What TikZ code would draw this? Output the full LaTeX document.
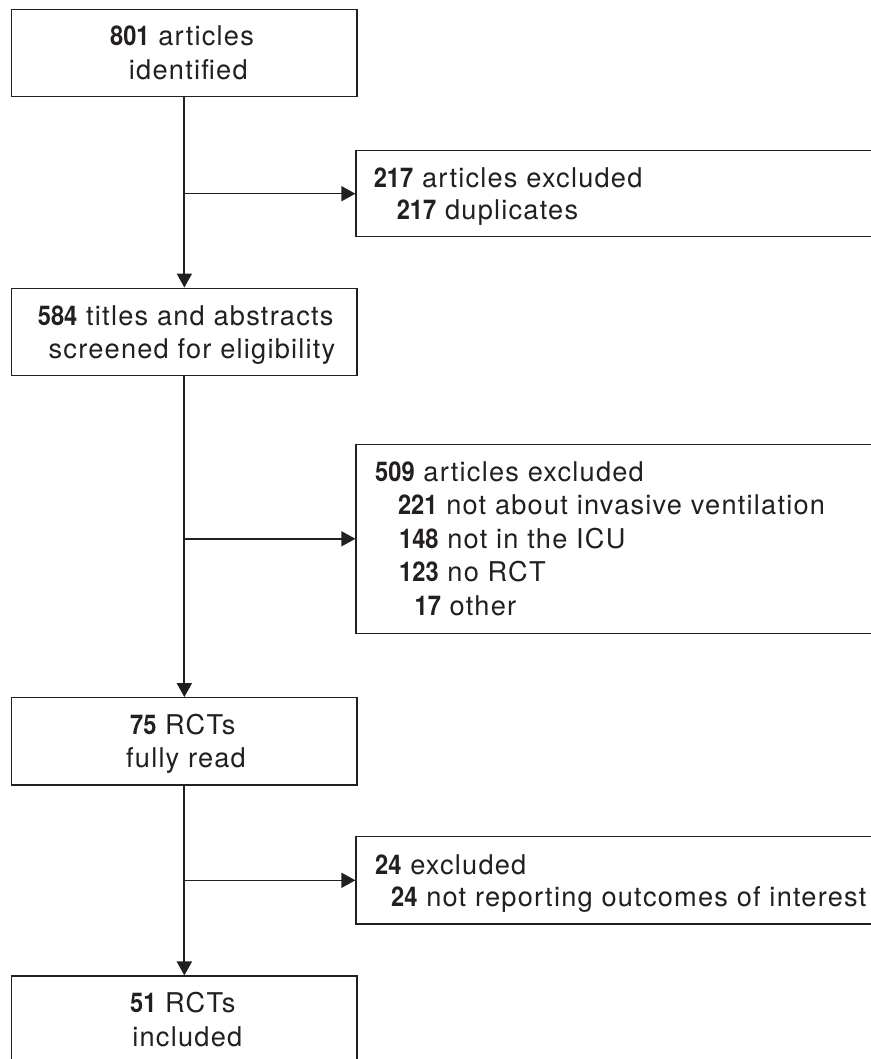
\documentclass[tikz,border=0pt]{standalone}
\usepackage{fontspec}
\setmainfont[LetterSpace=4.5]{TeX Gyre Heros}
\newfontfamily\numf[FakeStretch=0.87]{TeX Gyre Heros}
\usetikzlibrary{arrows.meta}
\definecolor{ink}{HTML}{231F20}
\newcommand{\nb}[1]{{\numf\bfseries #1}}
\tikzset{
  box/.style={draw=ink, line width=1.2pt, inner sep=0pt, fill=none},
  lbox/.style={box, minimum width=345.3pt, minimum height=87.3pt},
  rbox/.style={box, minimum width=524pt},
  txt/.style={inner sep=0pt, text=ink},
  varr/.style={draw=ink, line width=2pt, -{Triangle[length=14pt,width=15pt]}},
  harr/.style={draw=ink, line width=1.4pt, -{Triangle[length=14pt,width=15pt]}}
}
\begin{document}
\begin{tikzpicture}[x=1pt,y=-1pt,font=\fontsize{27.2}{33.6}\selectfont]
\fill[white] (0,0) rectangle (870,1059);
\useasboundingbox (0,0) rectangle (870,1059);
% left column boxes
\node[lbox] (b1) at (184.35,53) {};
\node[lbox] (b2) at (184.35,331.8) {};
\node[lbox] (b3) at (184.35,741.3) {};
\node[lbox] (b4) at (184.35,1019.7) {};
% right column boxes
\node[rbox, minimum height=86pt] (e1) at (618,193.7) {};
\node[rbox, minimum height=189pt] (e2) at (618,538.8) {};
\node[rbox, minimum height=87.3pt] (e3) at (618,880.3) {};
% texts, left
\node[txt, anchor=base] (t1a) at (182,45.7) {\nb{801} articles};
\node[txt, anchor=base] (t1b) at (188.3,79.3) {identified};
\node[txt, anchor=base] (t2a) at (185.7,325) {\nb{584} titles and abstracts};
\node[txt, anchor=base] (t2b) at (192,358.3) {screened for eligibility};
\node[txt, anchor=base] (t3a) at (182.8,734) {\nb{75} RCTs};
\node[txt, anchor=base] (t3b) at (186,767.3) {fully read};
\node[txt, anchor=base] (t4a) at (182.8,1012.7) {\nb{51} RCTs};
\node[txt, anchor=base] (t4b) at (187.3,1046.7) {included};
% texts, right
\node[txt, anchor=base west] (u1a) at (373.6,187.3) {\nb{217} articles excluded};
\node[txt, anchor=base west] (u1b) at (396.6,220) {\nb{217} duplicates};
\node[txt, anchor=base west] (u2a) at (375,481) {\nb{509} articles excluded};
\node[txt, anchor=base west] (u2b) at (397.8,514.6) {\nb{221} not about invasive ventilation};
\node[txt, anchor=base west] (u2c) at (398.9,548.2) {\nb{148} not in the ICU};
\node[txt, anchor=base west] (u2d) at (399,581.8) {\nb{123} no RCT};
\node[txt, anchor=base west] (u2e) at (414.4,615.4) {\nb{17} other};
\node[txt, anchor=base west] (u3a) at (375,874.3) {\nb{24} excluded};
\node[txt, anchor=base west] (u3b) at (391,906) {\nb{24} not reporting outcomes of interest};
% connectors
\draw[varr] (b1.south) -- (b2.north);
\draw[varr] (b2.south) -- (b3.north);
\draw[varr] (b3.south) -- (b4.north);
\draw[harr] (b1.south |- e1.west) -- (e1.west);
\draw[harr] (b2.south |- e2.west) -- (e2.west);
\draw[harr] (b3.south |- e3.west) -- (e3.west);
\end{tikzpicture}
\end{document}
